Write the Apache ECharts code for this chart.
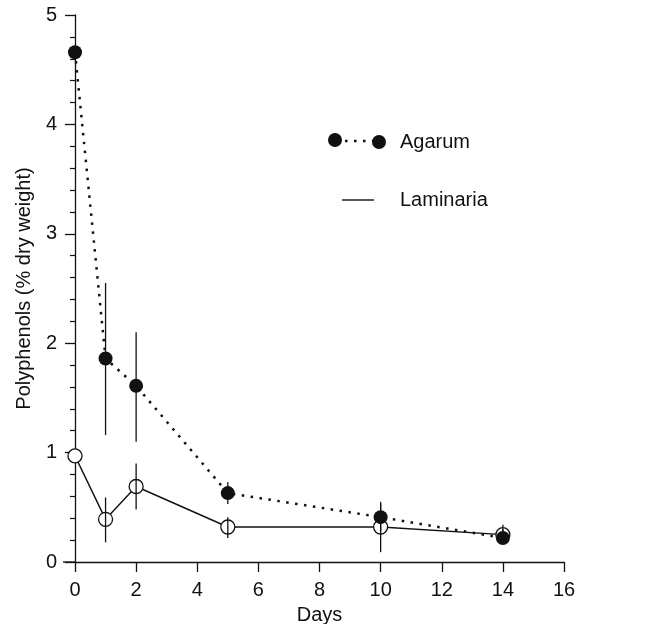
<!DOCTYPE html>
<html>
<head>
<meta charset="utf-8">
<script src="https://cdn.jsdelivr.net/npm/echarts@6/dist/echarts.min.js"></script>
<style>
  html, body { margin: 0; padding: 0; background: #fff; }
  #chart { width: 652px; height: 624px; }
</style>
</head>
<body>
<div id="chart"></div>
<script>
// values (polyphenols, % dry weight, vs days)
const days = [0, 1, 2, 5, 10, 14];
const agarum = [4.66, 1.86, 1.61, 0.63, 0.41, 0.22];
const agarumLow = [null, 1.16, 1.10, 0.53, 0.28, 0.17];
const agarumHigh = [null, 2.55, 2.10, 0.73, 0.55, 0.30];
const laminaria = [0.97, 0.39, 0.69, 0.32, 0.32, 0.25];
const laminariaLow = [null, 0.18, 0.48, 0.22, 0.09, 0.18];
const laminariaHigh = [null, 0.59, 0.90, 0.41, 0.53, 0.34];
const xTicks = [0, 2, 4, 6, 8, 10, 12, 14, 16];
const yTicks = [0, 1, 2, 3, 4, 5];

const INK = "#111";
const FONT = "Liberation Sans, Arial, sans-serif";

const pairs = (ys) => days.map((d, i) => [d, ys[i]]);
const bars = (lo, hi) => days.map((d, i) => [d, lo[i], hi[i]]).filter((r) => r[1] != null);

// plain vertical error bar, no caps
function errorBar(params, api) {
  const a = api.coord([api.value(0), api.value(1)]);
  const b = api.coord([api.value(0), api.value(2)]);
  return { type: "line", shape: { x1: a[0], y1: a[1], x2: b[0], y2: b[1] },
    style: { stroke: INK, lineWidth: 1.3 } };
}

const chart = echarts.init(document.getElementById("chart"));
chart.setOption({
  animation: false,
  backgroundColor: "#fff",
  textStyle: { fontFamily: FONT, color: INK },
  grid: { left: 75, right: 88, top: 15, bottom: 62, containLabel: false, outerBoundsMode: "none" },
  xAxis: {
    type: "value", min: xTicks[0], max: xTicks[xTicks.length - 1], interval: 2,
    name: "Days", nameLocation: "middle", nameGap: 43,
    nameTextStyle: { fontSize: 20, color: INK, fontFamily: FONT },
    axisLine: { lineStyle: { color: INK, width: 1.3 } },
    axisTick: { length: 10, lineStyle: { color: INK, width: 1.3 } },
    axisLabel: { fontSize: 20, color: INK, margin: 18, fontFamily: FONT },
    splitLine: { show: false },
  },
  yAxis: {
    type: "value", min: yTicks[0], max: yTicks[yTicks.length - 1], interval: 1,
    name: "Polyphenols (% dry weight)", nameLocation: "middle", nameGap: 41,
    nameTextStyle: { fontSize: 20, color: INK, fontFamily: FONT },
    axisLine: { lineStyle: { color: INK, width: 1.3 } },
    axisTick: { length: 10, lineStyle: { color: INK, width: 1.3 } },
    minorTick: { show: true, splitNumber: 5, length: 5, lineStyle: { color: INK, width: 1.2 } },
    axisLabel: { fontSize: 20, color: INK, margin: 18, fontFamily: FONT },
    splitLine: { show: false },
  },
  series: [
    { name: "Laminaria", type: "line", data: pairs(laminaria), z: 2,
      symbol: "circle", symbolSize: 14,
      lineStyle: { color: INK, width: 1.4 },
      itemStyle: { color: "#fff", borderColor: INK, borderWidth: 1.3 } },
    { name: "Laminaria err", type: "custom", data: bars(laminariaLow, laminariaHigh), z: 3,
      renderItem: errorBar },
    { name: "Agarum err", type: "custom", data: bars(agarumLow, agarumHigh), z: 3,
      renderItem: errorBar },
    { name: "Agarum", type: "line", data: pairs(agarum), z: 4,
      symbol: "circle", symbolSize: 14,
      lineStyle: { color: INK, width: 2.5, type: [2.5, 6.5] },
      itemStyle: { color: INK } },
  ],
  graphic: [
    // x axis line runs a little past the y axis in the figure
    { type: "line", shape: { x1: 63, y1: 562, x2: 75, y2: 562 },
      style: { stroke: INK, lineWidth: 1.3 } },
    // key, drawn to sit where it does in the figure
    { type: "circle", shape: { cx: 335, cy: 140, r: 7 }, style: { fill: INK } },
    { type: "line", shape: { x1: 345, y1: 141, x2: 374, y2: 141 },
      style: { stroke: INK, lineWidth: 2.5, lineDash: [2.5, 6.5] } },
    { type: "circle", shape: { cx: 379, cy: 142, r: 7 }, style: { fill: INK } },
    { type: "text", x: 400, y: 142, style: { text: "Agarum", fontSize: 20, fontFamily: FONT,
      fill: INK, verticalAlign: "middle" } },
    { type: "line", shape: { x1: 342, y1: 200, x2: 374, y2: 200 },
      style: { stroke: INK, lineWidth: 1.4 } },
    { type: "text", x: 400, y: 200, style: { text: "Laminaria", fontSize: 20, fontFamily: FONT,
      fill: INK, verticalAlign: "middle" } },
  ],
});
</script>
</body>
</html>
